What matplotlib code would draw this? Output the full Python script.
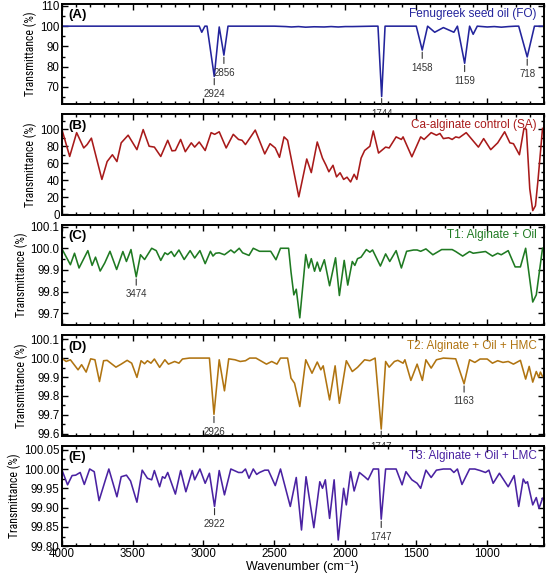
import matplotlib
matplotlib.use("Agg")
import matplotlib.pyplot as plt
from matplotlib.ticker import MultipleLocator, FormatStrFormatter, AutoMinorLocator

plt.rcParams['font.family'] = ['Liberation Sans', 'DejaVu Sans']

# ---------------- data ----------------
# Panel A: Fenugreek seed oil (FO)
wn_A = [4000, 3100, 3030, 3012, 2990, 2975, 2924, 2889, 2856, 2827, 2500, 2420, 2380, 2330,
        2280, 2220, 2150, 2100, 2050, 2000, 1950, 1800, 1770, 1744, 1720, 1500, 1458, 1420,
        1370, 1309, 1235, 1210, 1159, 1124, 1099, 1070, 1000, 950, 900, 850, 800, 778,
        718, 667, 600]
T_A = [100, 100, 100, 97.0, 100, 100, 75.2, 99.6, 85.7, 100, 100, 99.8, 99.6, 99.8,
       99.5, 99.7, 99.6, 99.8, 99.6, 99.8, 99.8, 100, 100, 65.3, 100, 100, 88.2, 100,
       97.0, 99.3, 97.0, 100, 81.7, 100, 96.0, 100, 99.6, 99.8, 99.5, 99.8, 100, 100,
       84.8, 100, 100]

# Panel B: Ca-alginate control (SA)
wn_B = [4000, 3943, 3894, 3844, 3820, 3790, 3716, 3679, 3642, 3610, 3580, 3531, 3469, 3425,
        3383, 3346, 3301, 3252, 3222, 3198, 3161, 3128, 3086, 3062, 3030, 2988, 2946, 2921,
        2889, 2840, 2790, 2753, 2728, 2704, 2635, 2568, 2531, 2494, 2464, 2432, 2407, 2328,
        2272, 2240, 2198, 2161, 2136, 2116, 2087, 2062, 2037, 2012, 1988, 1963, 1938, 1919,
        1889, 1864, 1827, 1803, 1766, 1716, 1691, 1642, 1605, 1593, 1531, 1469, 1445, 1395,
        1358, 1333, 1309, 1272, 1247, 1222, 1198, 1148, 1062, 1025, 975, 926, 877, 840,
        815, 773, 741, 724, 700, 679, 660, 642, 610]
T_B = [101, 68, 96, 78, 82, 89.5, 41, 62, 70, 62, 84, 93, 76, 99.6,
       80, 79, 68, 87, 74.6, 75, 88, 73.6, 84, 79, 85, 75, 96, 94,
       97, 78, 94, 88, 87, 82, 99, 71, 83, 78, 67, 91, 87, 20.5,
       65, 49, 85, 66, 57.6, 50, 57.6, 44, 48.8, 41, 43.6, 38, 47, 41,
       66, 75, 80, 98, 72, 79, 78, 91, 88, 91, 67.6, 91, 88, 96,
       93, 95, 89, 90, 88, 91, 90, 96, 79, 89, 76, 84, 97, 84,
       83, 70, 101, 100, 30, 4.3, 10, 40, 101]

# Panel C: T1 Alginate + Oil
wn_C = [4000, 3938, 3909, 3877, 3815, 3785, 3761, 3728, 3696, 3659, 3612, 3568, 3543, 3511,
        3474, 3444, 3415, 3365, 3333, 3301, 3272, 3252, 3227, 3205, 3173, 3136, 3094, 3062,
        3025, 2988, 2951, 2933, 2914, 2889, 2852, 2807, 2783, 2748, 2724, 2679, 2649, 2605,
        2568, 2526, 2489, 2457, 2400, 2383, 2363, 2346, 2321, 2279, 2259, 2240, 2217, 2198,
        2178, 2148, 2111, 2069, 2042, 2008, 1983, 1951, 1933, 1914, 1889, 1852, 1827, 1808,
        1753, 1716, 1687, 1642, 1605, 1568, 1543, 1519, 1494, 1469, 1432, 1383, 1321, 1247,
        1222, 1173, 1124, 1099, 1012, 963, 926, 901, 852, 803, 766, 729, 679, 654, 610]
T_C = [100.0, 99.924, 99.977, 99.909, 99.989, 99.921, 99.959, 99.895, 99.932, 99.986, 99.902,
       99.985, 99.939, 99.994, 99.868, 99.970, 99.948, 100.0, 99.989, 99.944, 99.979, 99.971,
       99.985, 99.962, 99.992, 99.948, 99.989, 99.955, 99.989, 99.929, 99.986, 99.964, 99.977,
       99.979, 99.970, 99.992, 99.979, 100.0, 99.979, 99.967, 100.0, 99.986, 99.986, 99.986,
       99.947, 100.0, 100.0, 99.891, 99.785, 99.811, 99.679, 99.971, 99.909, 99.952, 99.894,
       99.936, 99.894, 99.947, 99.827, 99.956, 99.782, 99.944, 99.830, 99.939, 99.921, 99.952,
       99.959, 99.994, 99.982, 99.992, 99.918, 99.974, 99.939, 99.989, 99.909, 99.986, 99.989,
       99.992, 99.992, 99.986, 99.997, 99.970, 99.994, 99.994, 99.985, 99.964, 99.985, 99.977,
       99.985, 99.964, 99.977, 99.970, 99.989, 99.914, 99.914, 100.0, 99.752, 99.785, 100.0]

# Panel D: T2 Alginate + Oil + HMC
wn_D = [4000, 3968, 3938, 3884, 3859, 3827, 3795, 3765, 3733, 3704, 3679, 3617, 3580, 3538,
        3506, 3469, 3440, 3415, 3395, 3370, 3346, 3309, 3272, 3247, 3203, 3173, 3148, 3099,
        2958, 2926, 2889, 2852, 2822, 2778, 2741, 2704, 2674, 2630, 2556, 2519, 2482, 2457,
        2407, 2383, 2358, 2321, 2279, 2235, 2198, 2173, 2156, 2111, 2072, 2042, 1993, 1951,
        1914, 1864, 1827, 1790, 1747, 1716, 1691, 1654, 1630, 1593, 1580, 1538, 1494, 1457,
        1432, 1395, 1358, 1309, 1222, 1163, 1124, 1087, 1050, 1000, 963, 926, 889, 852,
        815, 766, 729, 704, 679, 654, 637, 625, 610]
T_D = [100.0, 99.982, 99.991, 99.938, 99.965, 99.926, 99.996, 99.991, 99.876, 99.986, 99.988,
       99.952, 99.968, 99.988, 99.973, 99.898, 99.986, 99.970, 99.986, 99.973, 99.995, 99.951,
       99.991, 99.968, 99.982, 99.973, 99.995, 100.0, 100.0, 99.703, 99.991, 99.827, 99.996,
       99.991, 99.982, 99.986, 100.0, 100.0, 99.968, 99.982, 99.968, 100.0, 100.0, 99.894,
       99.867, 99.744, 99.991, 99.920, 99.979, 99.938, 99.959, 99.779, 99.959, 99.761, 99.986,
       99.929, 99.951, 99.991, 99.986, 100.0, 99.625, 99.982, 99.952, 99.982, 99.988, 99.973,
       99.991, 99.882, 99.968, 99.882, 99.991, 99.947, 99.991, 100.0, 99.996, 99.864, 99.991,
       99.977, 99.995, 99.995, 99.973, 99.986, 99.977, 99.982, 99.968, 99.988, 99.889, 99.956,
       99.873, 99.929, 99.898, 99.926, 99.903]

# Panel E: T3 Alginate + Oil + LMC
wn_E = [4000, 3958, 3926, 3901, 3869, 3840, 3802, 3770, 3736, 3691, 3667, 3610, 3580, 3543,
        3514, 3469, 3432, 3395, 3365, 3346, 3309, 3289, 3272, 3252, 3198, 3161, 3124, 3079,
        3062, 3025, 2988, 2958, 2922, 2889, 2852, 2807, 2753, 2728, 2704, 2679, 2649, 2625,
        2605, 2568, 2543, 2494, 2457, 2388, 2346, 2309, 2277, 2222, 2180, 2161, 2141, 2111,
        2079, 2050, 2012, 1993, 1963, 1938, 1901, 1864, 1840, 1803, 1766, 1747, 1716, 1642,
        1600, 1573, 1531, 1494, 1469, 1432, 1395, 1358, 1309, 1259, 1235, 1210, 1178, 1124,
        1087, 1050, 1012, 988, 958, 914, 852, 810, 778, 746, 729, 716, 679, 654, 635, 610]
T_E = [100.0, 99.959, 99.983, 99.984, 99.991, 99.960, 100.0, 99.993, 99.918, 99.972, 100.0,
       99.928, 99.980, 99.984, 99.969, 99.914, 99.997, 99.976, 99.972, 99.996, 99.954, 99.980,
       99.976, 99.991, 99.935, 99.996, 99.941, 99.996, 99.972, 100.0, 99.963, 99.989, 99.903,
       99.996, 99.933, 100.0, 99.991, 99.991, 100.0, 99.976, 100.0, 99.986, 99.991, 99.997,
       99.997, 99.957, 100.0, 99.903, 99.978, 99.842, 99.980, 99.848, 99.967, 99.950, 99.972,
       99.872, 99.972, 99.816, 99.950, 99.907, 99.993, 99.943, 99.991, 99.980, 99.972, 100.0,
       100.0, 99.870, 100.0, 100.0, 99.959, 99.993, 99.972, 99.963, 99.950, 99.997, 99.978,
       99.997, 100.0, 100.0, 99.991, 100.0, 99.960, 100.0, 100.0, 99.996, 99.991, 99.997,
       99.963, 99.989, 99.954, 99.983, 99.903, 99.974, 99.963, 99.967, 99.907, 99.926, 99.898,
       99.924]

# peak annotations (wavenumber, transmittance at minimum, label)
ann_A = [(2924, 75.2, "2924"), (2856, 85.7, "2856"), (1744, 65.3, "1744"),
         (1458, 88.2, "1458"), (1159, 81.7, "1159"), (718, 84.8, "718")]
ann_B = []
ann_C = [(3474, 99.868, "3474")]
ann_D = [(2926, 99.703, "2926"), (1747, 99.625, "1747"), (1163, 99.864, "1163")]
ann_E = [(2922, 99.903, "2922"), (1747, 99.870, "1747")]

labels = ["(A)", "(B)", "(C)", "(D)", "(E)"]
names = ["Fenugreek seed oil (FO)", "Ca-alginate control (SA)", "T1: Alginate + Oil",
         "T2: Alginate + Oil + HMC", "T3: Alginate + Oil + LMC"]
colors = ["#23249c", "#a81a1a", "#1f7a22", "#b07411", "#4a22a2"]
yticks = [[70, 80, 90, 100, 110], [0, 20, 40, 60, 80, 100],
          [99.7, 99.8, 99.9, 100.0, 100.1], [99.6, 99.7, 99.8, 99.9, 100.0, 100.1],
          [99.80, 99.85, 99.90, 99.95, 100.00, 100.05]]
ylims = [(61.5, 111.0), (-0.5, 117.5), (99.645, 100.108), (99.59, 100.12), (99.80, 100.06)]
yfmts = ["%d", "%d", "%.1f", "%.1f", "%.2f"]

xs = [wn_A, wn_B, wn_C, wn_D, wn_E]
ys = [T_A, T_B, T_C, T_D, T_E]
anns = [ann_A, ann_B, ann_C, ann_D, ann_E]

# ---------------- figure ----------------
fig = plt.figure(figsize=(5.5, 5.77), dpi=100)
left, width = 0.112, 0.877
shift = 0.004
bottoms = [0.8154 + shift, 0.6239 + shift, 0.4324 + shift, 0.2409 + shift, 0.0494 + shift]
height = 0.1759 - shift / 2

for i in range(5):
    ax = fig.add_axes([left, bottoms[i], width, height])
    ax.set_facecolor("white")
    ax.plot(xs[i], ys[i], color=colors[i], lw=1.15, solid_joinstyle="round")
    ax.set_xlim(4000, 600)
    ax.set_ylim(*ylims[i])
    ax.set_yticks(yticks[i])
    ax.yaxis.set_major_formatter(FormatStrFormatter(yfmts[i]))
    ax.yaxis.set_minor_locator(AutoMinorLocator(2))
    ax.xaxis.set_major_locator(MultipleLocator(500))
    ax.xaxis.set_minor_locator(MultipleLocator(100))
    ax.tick_params(which="both", direction="in", top=True, right=True, labelsize=8.3,
                   width=1.0, pad=1.5)
    ax.tick_params(axis="x", pad=1.0)
    ax.tick_params(which="major", length=4)
    ax.tick_params(which="minor", length=2)
    for s in ax.spines.values():
        s.set_linewidth(1.4)
    if i < 4:
        ax.tick_params(labelbottom=False)
    ax.set_ylabel("Transmittance (%)", family=["Roboto Condensed", "Liberation Sans"],
                  fontsize=8.5, labelpad=2)
    ax.text(0.015, 0.945, labels[i], transform=ax.transAxes, fontsize=9.5, fontweight="bold",
            ha="left", va="top")
    ax.text(0.985, 0.955, names[i], transform=ax.transAxes, fontsize=8.5, color=colors[i],
            ha="right", va="top")
    for (w, t, lab) in anns[i]:
        ax.annotate(lab, xy=(w, t), xytext=(0, -9), textcoords="offset points",
                    ha="center", va="top", fontsize=7, color="#333333",
                    arrowprops=dict(arrowstyle="-", color="#333333", lw=0.8,
                                    shrinkA=1, shrinkB=1.5))
    if i == 4:
        ax.set_xlabel("Wavenumber (cm\u207b\u00b9)", fontsize=9,
                      family=["Liberation Sans", "DejaVu Sans"], labelpad=0.5)

fig.savefig("out.png", dpi=100)
